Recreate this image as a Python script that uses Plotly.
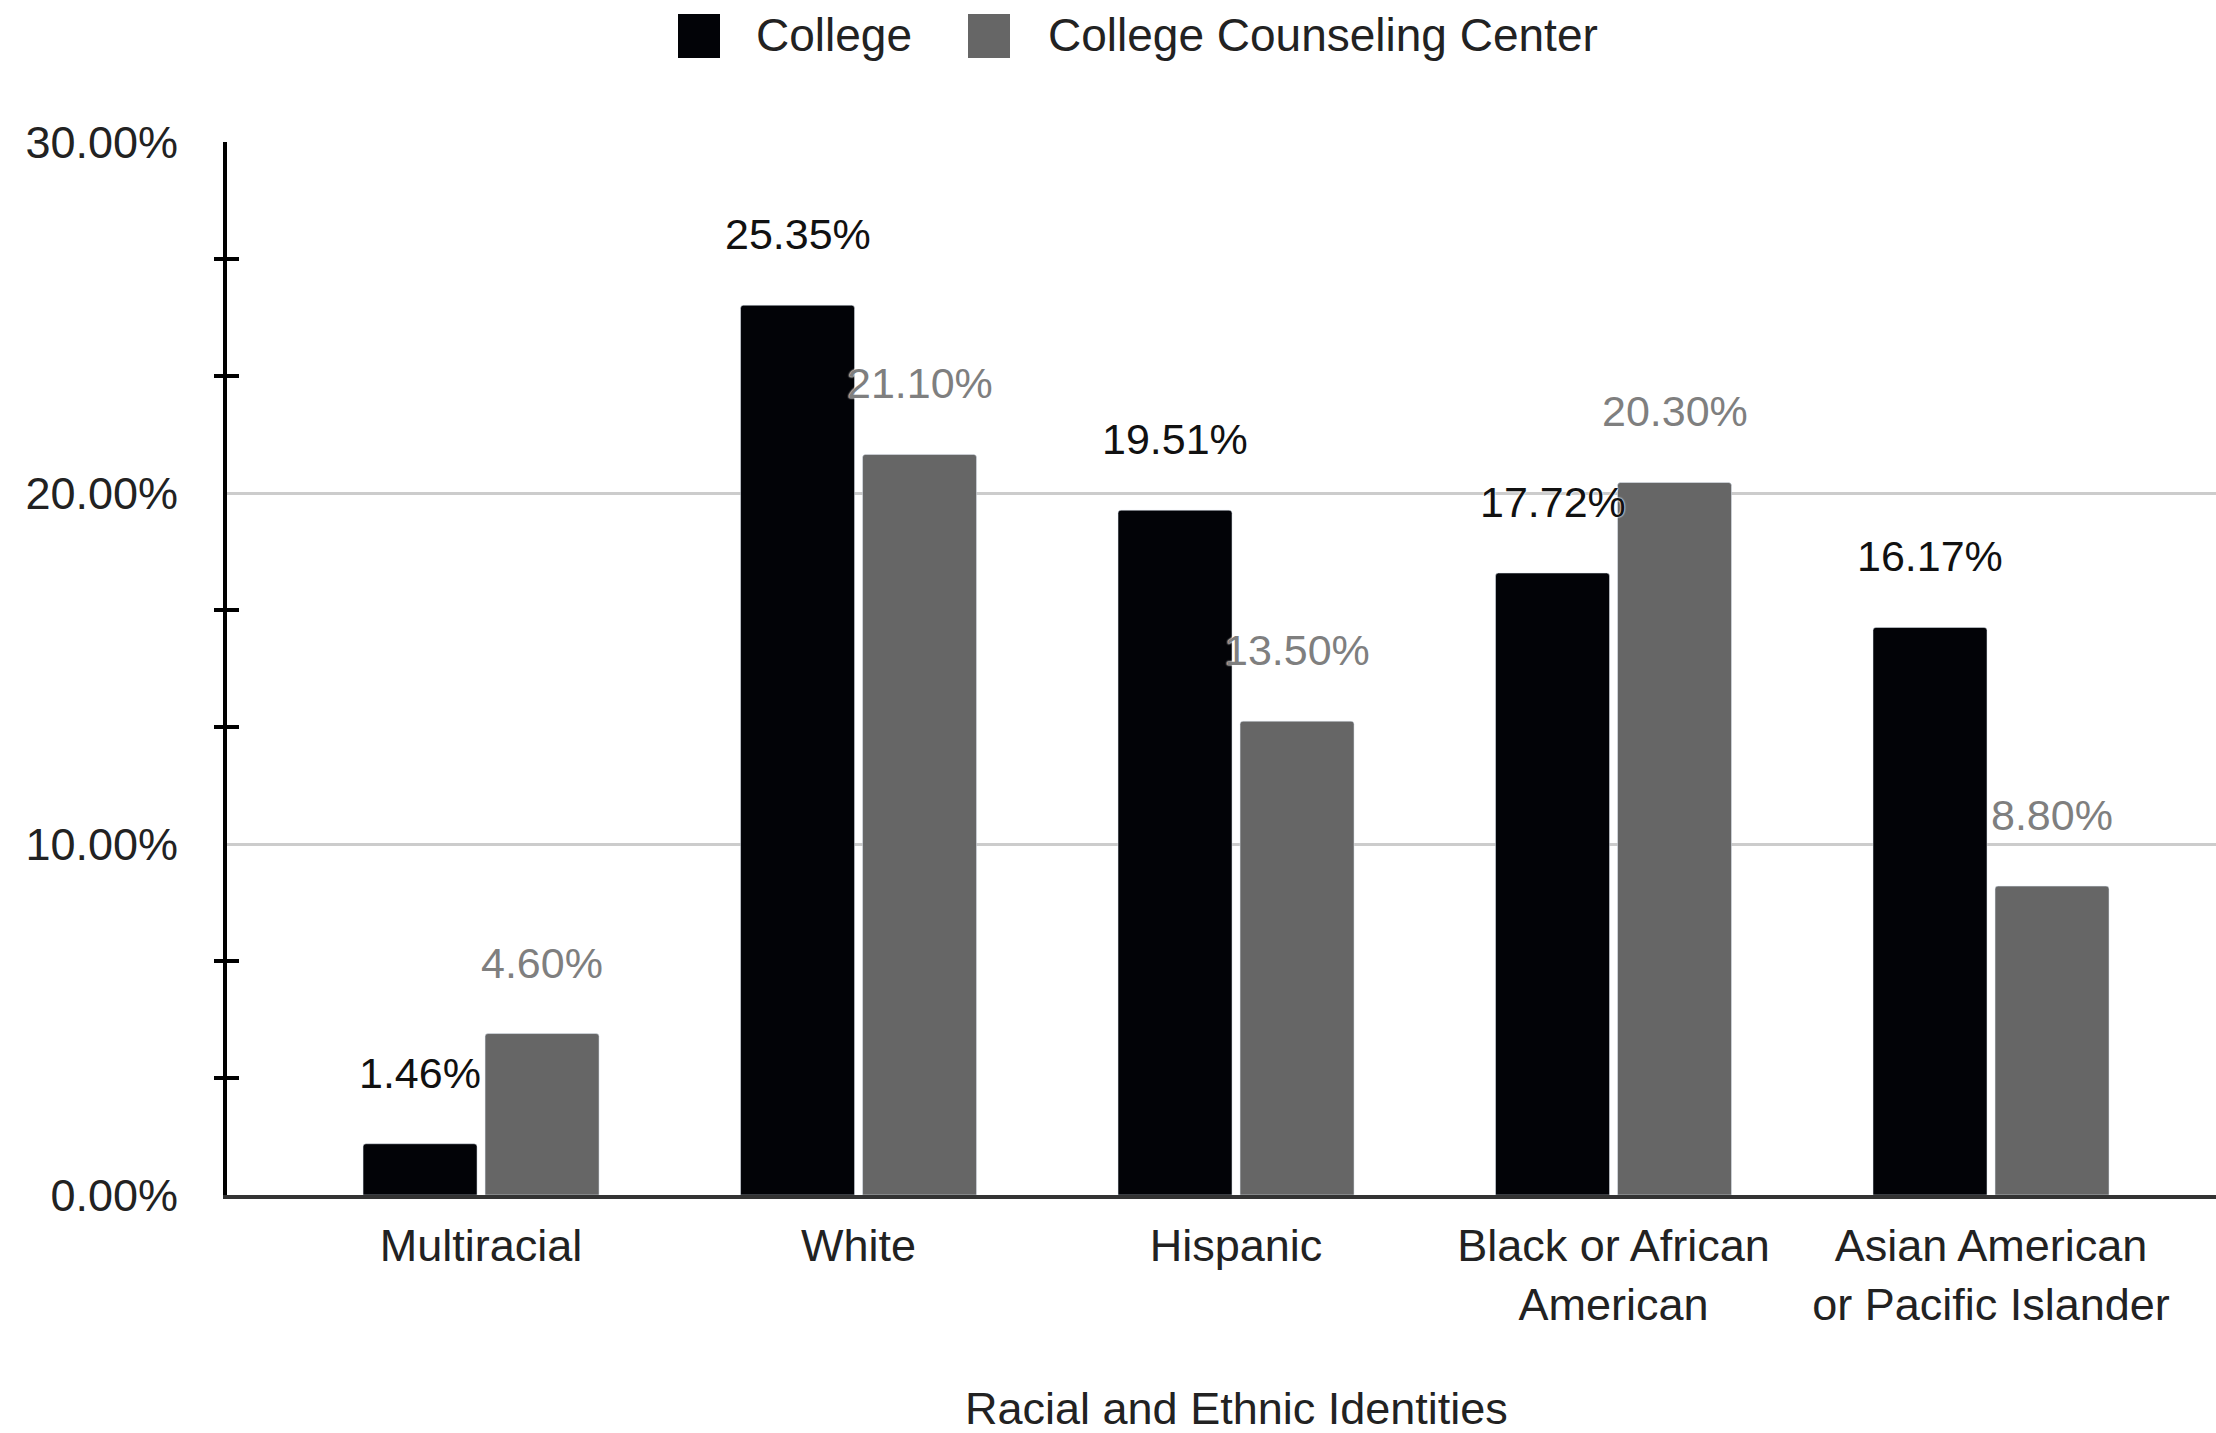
import plotly.graph_objects as go

categories = ["Multiracial", "White", "Hispanic", "Black or African<br>American",
              "Asian American<br>or Pacific Islander"]
college = [1.46, 25.35, 19.51, 17.72, 16.17]
counseling = [4.60, 21.10, 13.50, 20.30, 8.80]
series_names = ["College", "College Counseling Center"]
y_tick_vals = [0, 10, 20, 30]
y_tick_text = ["0.00%", "10.00%", "20.00%", "30.00%"]
y_minor_step = 10 / 3

W, H = 2216, 1433
L, R, T, B = 227, 0, 142, 238
PW, PH = W - L - R, H - T - B

def px(x):
    return (x - L) / PW

def py(y):
    return (H - B - y) / PH

FONT = "Liberation Sans, Arial, sans-serif"
BLACK = "#020307"
GRAY = "#666666"
TXT = "#222222"

minor_vals = [i * y_minor_step for i in range(1, 9) if i % 3 != 0]

fig = go.Figure()
fig.add_trace(go.Bar(x=categories, y=college, name=series_names[0],
                     marker_color=BLACK, showlegend=False))
fig.add_trace(go.Bar(x=categories, y=counseling, name=series_names[1],
                     marker_color=GRAY, showlegend=False))
# helper trace so the overlaying axis (inner half of the crossing ticks) is drawn
fig.add_trace(go.Scatter(x=[categories[0]], y=[0], yaxis="y2", mode="markers",
                         marker=dict(opacity=0), showlegend=False, hoverinfo="skip"))

annotations = []
for vals, color, shift in [(college, "#111111", -61), (counseling, "#7f7f7f", 61)]:
    for c, v in zip(categories, vals):
        annotations.append(dict(
            x=c, y=v, xref="x", yref="y", text=f"{v:.2f}%", showarrow=False,
            xshift=shift, yshift=71, xanchor="center", yanchor="middle",
            font=dict(family=FONT, size=43, color=color,
                      shadow="0px 0px 2px white, 0px 0px 2px white")))

# custom legend
shapes = []
legend_items = [(678, 754, BLACK, series_names[0]), (968, 1046, GRAY, series_names[1])]
for sx, tx, col, name in legend_items:
    shapes.append(dict(type="rect", xref="paper", yref="paper",
                       x0=px(sx), x1=px(sx + 42), y0=py(58), y1=py(14),
                       fillcolor=col, line=dict(width=0)))
    annotations.append(dict(x=px(tx), y=py(35), xref="paper", yref="paper",
                            text=name, showarrow=False, xanchor="left", yanchor="middle",
                            font=dict(family=FONT, size=46, color=TXT)))

annotations.append(dict(x=px(1236), y=py(1408), xref="paper", yref="paper",
                        text="Racial and Ethnic Identities", showarrow=False,
                        xanchor="center", yanchor="middle",
                        font=dict(family=FONT, size=45, color=TXT)))

fig.update_layout(
    width=W, height=H,
    margin=dict(l=L, r=R, t=T, b=B, autoexpand=False),
    paper_bgcolor="white", plot_bgcolor="white",
    barmode="group", bargap=0.3536, bargroupgap=0.0656,
    barcornerradius=3,
    font=dict(family=FONT, size=45, color=TXT),
    annotations=annotations, shapes=shapes,
    xaxis=dict(range=[-0.673, 4.596], showline=True, linecolor="#333333", linewidth=4,
               ticks="", showgrid=False, layer="below traces",
               tickfont=dict(family=FONT, size=45, color=TXT),
               ticklabelstandoff=8),
    yaxis=dict(range=[0, 30], tickvals=y_tick_vals, ticktext=y_tick_text,
               showline=True, linecolor="black", linewidth=4,
               showgrid=True, gridcolor="#cccccc", gridwidth=3,
               zeroline=False, ticks="",
               tickfont=dict(family=FONT, size=45, color=TXT),
               ticklabelstandoff=36),
    yaxis2=dict(range=[0, 30], overlaying="y", anchor="x", side="left",
                showline=False, showgrid=False, zeroline=False,
                showticklabels=False, tickmode="array", tickvals=minor_vals,
                ticks="outside", ticklen=12, tickwidth=4, tickcolor="black"),
    yaxis3=dict(range=[0, 30], overlaying="y", anchor="x", side="left",
                showline=False, showgrid=False, zeroline=False,
                showticklabels=False, tickmode="array", tickvals=minor_vals,
                ticks="inside", ticklen=12, tickwidth=4, tickcolor="black"),
)
fig.add_trace(go.Scatter(x=[categories[0]], y=[0], yaxis="y3", mode="markers",
                         marker=dict(opacity=0), showlegend=False, hoverinfo="skip"))

fig.write_html("out.html")
